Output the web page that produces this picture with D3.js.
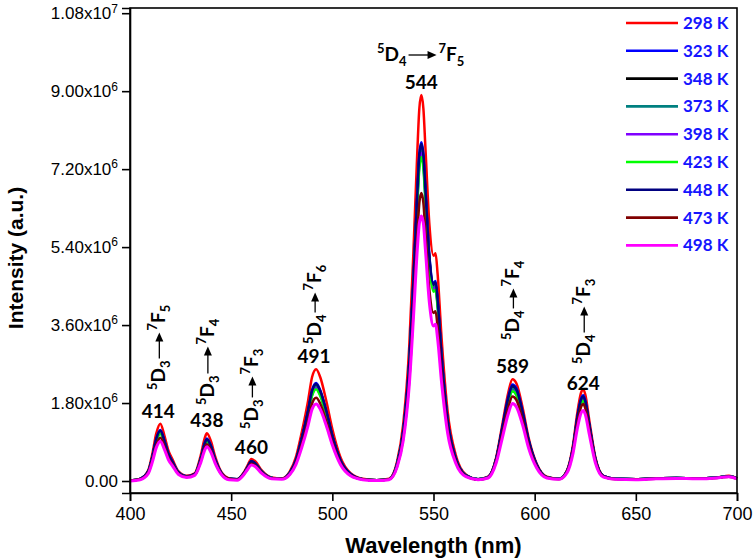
<!DOCTYPE html>
<html><head><meta charset="utf-8">
<script src="https://cdn.jsdelivr.net/npm/d3@7"></script>
<style>body{margin:0;background:#fff}svg{display:block}</style>
</head><body>
<svg id="chart" width="756" height="560"></svg>
<script>
// ---------- DATA (intensity in units of 1e6 a.u.) ----------
const UNIT = 1e6;
const wavelengths = [400,405,409,411,413,415,417,419,421,424, 428,432,435,437,438,440,442,445,449,453, 456,458,460,462,465,470,475,479,482,485, 488,490,492,494,497,500,504,509,515,522, 528,532,535,538,540,542,543,544,545,546, 548,550,551,552,554,557,561,566,572,577, 581,584,587,589,591,594,597,601,606,612, 616,619,621,623,624,625,627,630,634,640, 650,660,670,680,690,696,700];

const temperatures = ["298 K","323 K","348 K","373 K","398 K","423 K","448 K","473 K","498 K"];
const seriesColors = ["#ff0000","#0000ff","#000000","#008080","#8000ff","#00ff00","#000080","#800000","#ff00ff"];

const s298 = [0.01,0.05,0.25,0.62,1.10,1.32,1.05,0.70,0.50,0.22, 0.12,0.18,0.60,1.00,1.10,0.92,0.58,0.22,0.06,0.04, 0.18,0.35,0.51,0.45,0.25,0.08,0.06,0.22,0.55,1.15, 1.85,2.40,2.58,2.40,1.85,1.20,0.55,0.18,0.05,0.02, 0.05,0.45,1.30,3.10,5.20,7.60,8.60,8.91,8.60,7.70, 5.90,5.20,5.26,4.80,3.30,1.60,0.60,0.15,0.04,0.10, 0.55,1.30,2.05,2.35,2.25,1.70,1.00,0.40,0.10,0.05, 0.25,0.85,1.55,2.05,2.12,2.00,1.40,0.55,0.12,0.05, 0.04,0.06,0.07,0.06,0.08,0.12,0.06];
const s323 = [0.01,0.05,0.22,0.55,0.98,1.18,0.94,0.63,0.45,0.20, 0.11,0.16,0.53,0.89,0.98,0.82,0.52,0.20,0.05,0.04, 0.16,0.31,0.46,0.40,0.22,0.07,0.05,0.19,0.48,1.01, 1.62,2.10,2.26,2.10,1.62,1.05,0.48,0.16,0.04,0.02, 0.04,0.40,1.14,2.72,4.57,6.67,7.55,7.82,7.55,6.76, 5.18,4.57,4.62,4.21,2.90,1.40,0.53,0.13,0.04,0.09, 0.52,1.23,1.95,2.23,2.14,1.61,0.95,0.38,0.09,0.05, 0.23,0.79,1.45,1.91,1.98,1.87,1.31,0.51,0.11,0.05, 0.04,0.06,0.07,0.06,0.08,0.11,0.06];
const s348 = [0.01,0.05,0.22,0.54,0.95,1.14,0.91,0.60,0.43,0.19, 0.10,0.16,0.52,0.86,0.95,0.79,0.50,0.19,0.05,0.04, 0.16,0.31,0.45,0.40,0.22,0.07,0.05,0.19,0.47,0.99, 1.59,2.06,2.21,2.06,1.59,1.03,0.47,0.15,0.04,0.02, 0.04,0.39,1.12,2.68,4.50,6.57,7.44,7.71,7.44,6.66, 5.10,4.50,4.55,4.15,2.85,1.38,0.52,0.13,0.04,0.09, 0.51,1.19,1.88,2.16,2.07,1.56,0.92,0.37,0.09,0.05, 0.23,0.77,1.40,1.86,1.92,1.81,1.27,0.50,0.11,0.05, 0.04,0.06,0.07,0.06,0.08,0.11,0.06];
const s373 = [0.01,0.05,0.21,0.53,0.94,1.13,0.90,0.60,0.43,0.19, 0.10,0.15,0.51,0.86,0.94,0.79,0.50,0.19,0.05,0.04, 0.15,0.30,0.44,0.39,0.22,0.07,0.05,0.19,0.46,0.97, 1.56,2.03,2.18,2.03,1.56,1.01,0.46,0.15,0.04,0.02, 0.04,0.39,1.11,2.66,4.46,6.51,7.37,7.64,7.37,6.60, 5.06,4.46,4.51,4.11,2.83,1.37,0.51,0.13,0.04,0.09, 0.50,1.18,1.86,2.13,2.04,1.54,0.91,0.36,0.09,0.05, 0.22,0.76,1.39,1.84,1.90,1.79,1.25,0.49,0.11,0.05, 0.04,0.06,0.07,0.06,0.08,0.11,0.06];
const s398 = [0.01,0.04,0.21,0.52,0.92,1.10,0.87,0.58,0.42,0.18, 0.10,0.15,0.50,0.83,0.91,0.76,0.48,0.18,0.05,0.03, 0.15,0.29,0.43,0.38,0.21,0.07,0.05,0.18,0.46,0.95, 1.53,1.99,2.14,1.99,1.53,0.99,0.46,0.15,0.04,0.02, 0.04,0.38,1.11,2.64,4.42,6.46,7.31,7.57,7.31,6.55, 5.02,4.42,4.47,4.08,2.81,1.36,0.51,0.13,0.04,0.09, 0.49,1.15,1.81,2.08,1.99,1.50,0.89,0.35,0.09,0.05, 0.22,0.75,1.36,1.80,1.86,1.75,1.23,0.48,0.11,0.05, 0.04,0.06,0.07,0.06,0.08,0.11,0.06];
const s423 = [0.01,0.04,0.21,0.51,0.91,1.09,0.87,0.58,0.41,0.18, 0.10,0.15,0.50,0.83,0.91,0.76,0.48,0.18,0.05,0.03, 0.15,0.29,0.43,0.38,0.21,0.07,0.05,0.18,0.45,0.95, 1.52,1.97,2.12,1.97,1.52,0.99,0.45,0.15,0.04,0.02, 0.04,0.38,1.09,2.60,4.37,6.38,7.22,7.48,7.22,6.47, 4.96,4.37,4.42,4.03,2.77,1.34,0.50,0.13,0.04,0.09, 0.48,1.15,1.81,2.07,1.98,1.50,0.88,0.35,0.09,0.05, 0.22,0.74,1.35,1.79,1.85,1.75,1.22,0.48,0.10,0.05, 0.04,0.06,0.07,0.06,0.08,0.11,0.06];
const s448 = [0.01,0.05,0.22,0.54,0.97,1.16,0.92,0.62,0.44,0.19, 0.10,0.16,0.52,0.87,0.96,0.80,0.51,0.19,0.05,0.04, 0.16,0.31,0.45,0.40,0.22,0.07,0.05,0.19,0.48,1.00, 1.61,2.08,2.24,2.08,1.61,1.04,0.48,0.16,0.04,0.02, 0.04,0.39,1.13,2.71,4.54,6.63,7.51,7.78,7.51,6.72, 5.15,4.54,4.59,4.19,2.88,1.40,0.52,0.13,0.04,0.09, 0.51,1.22,1.92,2.20,2.11,1.59,0.94,0.37,0.09,0.05, 0.23,0.78,1.43,1.89,1.95,1.84,1.29,0.51,0.11,0.05, 0.04,0.06,0.07,0.06,0.08,0.11,0.06];
const s473 = [0.01,0.04,0.19,0.47,0.83,1.00,0.80,0.53,0.38,0.17, 0.09,0.14,0.46,0.77,0.85,0.71,0.45,0.17,0.05,0.03, 0.14,0.27,0.40,0.35,0.20,0.06,0.05,0.16,0.41,0.86, 1.38,1.79,1.92,1.79,1.38,0.89,0.41,0.13,0.04,0.02, 0.04,0.34,0.97,2.31,3.88,5.67,6.42,6.65,6.42,5.74, 4.40,3.88,3.92,3.58,2.46,1.19,0.45,0.11,0.03,0.08, 0.46,1.08,1.70,1.95,1.87,1.41,0.83,0.33,0.08,0.04, 0.21,0.71,1.30,1.72,1.78,1.68,1.18,0.46,0.10,0.04, 0.04,0.05,0.06,0.05,0.07,0.10,0.05];
const s498 = [0.00,0.03,0.17,0.43,0.77,0.92,0.73,0.49,0.35,0.15, 0.08,0.13,0.43,0.72,0.79,0.66,0.42,0.16,0.03,0.02, 0.13,0.26,0.37,0.33,0.18,0.05,0.04,0.15,0.38,0.79, 1.28,1.66,1.78,1.66,1.28,0.83,0.38,0.12,0.03,0.01, 0.03,0.32,0.92,2.20,3.70,5.35,5.95,6.12,5.95,5.35, 4.10,3.58,3.62,3.30,2.27,1.10,0.41,0.10,0.03,0.07, 0.42,0.99,1.56,1.79,1.71,1.30,0.76,0.30,0.07,0.04, 0.19,0.65,1.19,1.58,1.63,1.54,1.08,0.42,0.09,0.04, 0.03,0.05,0.06,0.05,0.07,0.10,0.05];
const seriesValues = [s298,s323,s348,s373,s398,s423,s448,s473,s498];

const xTickValues = [400,450,500,550,600,650,700];
const yTickValues = [0,1.8,3.6,5.4,7.2,9.0,10.8];
const yTickMantissa = ["0.00","1.80","3.60","5.40","7.20","9.00","1.08"];
const yTickExponent = ["","6","6","6","6","6","7"];

const peakLabels = ["414","438","460","491","544","589","624"];
const peakWavelengths = [414,438,460,491,544,589,624];
const transitions = [["5","D","3","7","F","5"],["5","D","3","7","F","4"],["5","D","3","7","F","3"],["5","D","4","7","F","6"],["5","D","4","7","F","5"],["5","D","4","7","F","4"],["5","D","4","7","F","3"]];

// ---------- LAYOUT ----------
const L = 130, R = 737, T = 8, B = 493;
const numY = [418,427,454,363,89,373,390];       // baselines of peak numbers (px)
const annStart = [390,405,429,344,0,340,364];    // bottom of rotated transition labels (px)
const arrowLen = [26,27,21,20,28,20,26];

const svg = d3.select("#chart");
const x = d3.scaleLinear().domain([400,700]).range([L,R]);
const y = d3.scaleLinear().domain([-0.277*UNIT, 10.92*UNIT]).range([B,T]);

// series lines
const line = d3.line().x(d=>x(d[0])).y(d=>y(d[1])).curve(d3.curveMonotoneX);
const gLines = svg.append("g");
seriesValues.forEach((vals,i)=>{
  const data = wavelengths.map((w,j)=>[w, vals[j]*UNIT]);
  gLines.append("path").datum(data).attr("d",line).attr("fill","none")
    .attr("stroke",seriesColors[i]).attr("stroke-width", i===8 ? 3 : 2.5)
    .attr("stroke-linejoin","round");
});

// frame
svg.append("rect").attr("x",L).attr("y",T).attr("width",R-L).attr("height",B-T)
  .attr("fill","none").attr("stroke","#000").attr("stroke-width",1.6);

// axes
const tickFont = "'Liberation Sans',Arial,sans-serif";
const xAxis = svg.append("g").attr("transform",`translate(0,${B})`)
  .call(d3.axisBottom(x).tickValues(xTickValues).tickSize(8).tickPadding(6).tickFormat(d3.format("d")));
xAxis.select(".domain").attr("stroke-width",1.6);
xAxis.selectAll(".tick line").attr("stroke-width",1.6);
xAxis.selectAll("text").attr("font-family",tickFont).attr("font-size",18).attr("fill","#000");

const yAxis = svg.append("g").attr("transform",`translate(${L},0)`)
  .call(d3.axisLeft(y).tickValues(yTickValues.map(v=>v*UNIT)).tickSize(8).tickPadding(4)
    .tickFormat((d,i)=> yTickMantissa[i] + (yTickExponent[i] ? "x10" : "")));
yAxis.select(".domain").attr("stroke-width",1.6);
yAxis.selectAll(".tick line").attr("stroke-width",1.6);
yAxis.selectAll("text").attr("font-family",tickFont).attr("font-size",17).attr("fill","#000")
  .each(function(d,i){
    if (yTickExponent[i]) {
      d3.select(this).append("tspan").attr("dy","-0.55em").attr("font-size",12).text(yTickExponent[i]);
    }
  });

// axis titles
svg.append("text").attr("transform","translate(23,258) rotate(-90)").attr("text-anchor","middle")
  .attr("font-family",tickFont).attr("font-weight","bold").attr("font-size",21)
  .text("Intensity (a.u.)");
svg.append("text").attr("x",(L+R)/2).attr("y",553).attr("text-anchor","middle")
  .attr("font-family",tickFont).attr("font-weight","bold").attr("font-size",22)
  .text("Wavelength (nm)");

// legend
const legend = svg.append("g");
temperatures.forEach((t,i)=>{
  const yy = 23 + i*27.8;
  legend.append("line").attr("x1",626).attr("x2",678).attr("y1",yy).attr("y2",yy)
    .attr("stroke",seriesColors[i]).attr("stroke-width",2.6);
  legend.append("text").attr("x",683).attr("y",yy+6).attr("fill","#1414ff")
    .attr("font-family","Lato,'Open Sans',sans-serif").attr("font-weight","bold").attr("font-size",17).text(t);
});

// annotations
const annFont = "Lato,'Open Sans',sans-serif";
function termText(g, x0, sup, main, sub) {
  const t = g.append("text").attr("x",x0).attr("y",0).attr("font-family",annFont).attr("font-weight","bold").attr("font-size",19);
  t.append("tspan").attr("dy",-8).attr("font-size",13).text(sup);
  t.append("tspan").attr("dy",8).text(main);
  t.append("tspan").attr("dy",5).attr("font-size",13).text(sub);
  return t.node().getComputedTextLength();
}
function arrow(g, x0, len, yOff) {
  g.append("line").attr("x1",x0).attr("x2",x0+len-7).attr("y1",yOff).attr("y2",yOff).attr("stroke","#000").attr("stroke-width",1.3);
  g.append("path").attr("d",`M${x0+len},${yOff} L${x0+len-9},${yOff-4} L${x0+len-9},${yOff+4} Z`).attr("fill","#000");
}
const ann = svg.append("g");
peakLabels.forEach((lab,i)=>{
  const cx = x(peakWavelengths[i]);
  ann.append("text").attr("x",cx).attr("y",numY[i]).attr("text-anchor","middle")
    .attr("font-family",annFont).attr("font-weight","bold").attr("font-size",19).text(lab);
  const tr = transitions[i];
  let g;
  if (i === 4) {
    g = ann.append("g").attr("transform","translate(377,61)");
  } else {
    g = ann.append("g").attr("transform",`translate(${cx+7},${annStart[i]}) rotate(-90)`);
  }
  const w1 = termText(g, 0, tr[0], tr[1], tr[2]);
  arrow(g, w1+2, arrowLen[i], -6);
  termText(g, w1+4+arrowLen[i], tr[3], tr[4], tr[5]);
});
</script>
</body></html>
